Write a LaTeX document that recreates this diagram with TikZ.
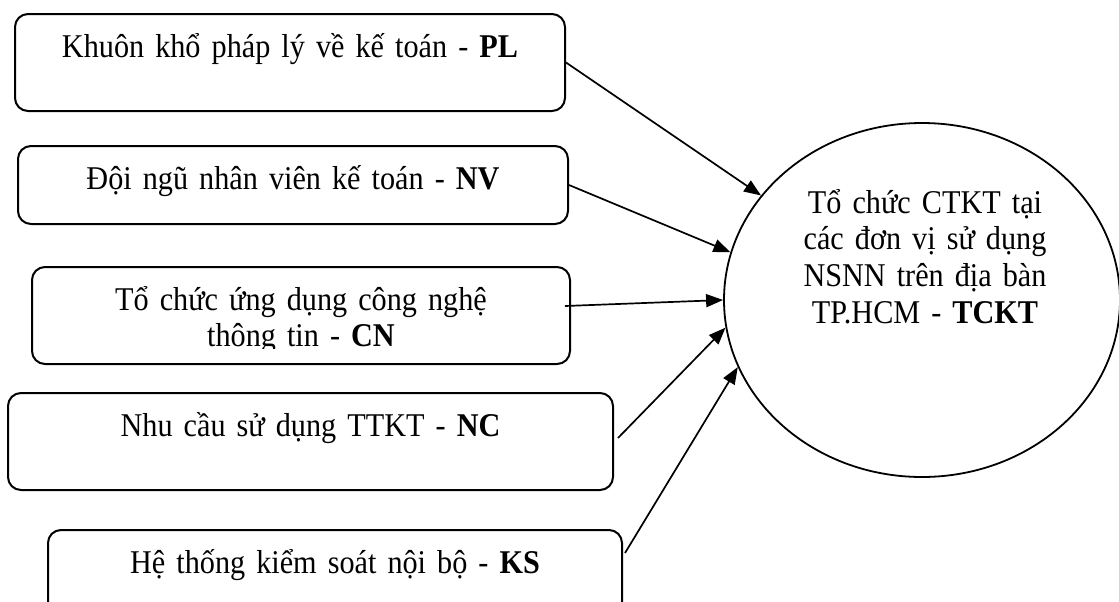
\documentclass[tikz,border=0pt]{standalone}
\usepackage{fontspec}
\setmainfont{Liberation Serif}[FakeStretch=0.91]
\usepackage{tikz}
\usetikzlibrary{arrows.meta}
\usetikzlibrary{shapes.geometric}
\tikzset{
    boxtext/.style = {align=center, inner sep=0pt, font=\fontsize{16.6}{18.35}\selectfont},
    factor_box/.style = {boxtext, draw=black, line width=1pt, rounded corners=6.5pt, anchor=north west, text height=21.5pt, text depth=27pt},
    result_node/.style = {ellipse, draw=black, line width=0.9pt, inner sep=0pt, minimum width=198pt, minimum height=177pt},
    result_text/.style = {boxtext, text width=150pt, anchor=base},
    link/.style = {->, line width=0.85pt}
}

\begin{document}
\begin{tikzpicture}
            [x=0.5pt, y=-0.5pt,
            >={Triangle[length=8.5pt, width=6.5pt]}]

            \useasboundingbox (0,0) rectangle (1119,601);

            % factors on the left
            \node [factor_box, text width=275pt] (pl) at (14,13) {Khuôn khổ pháp lý về kế toán - \textbf{PL}};
            \node [factor_box, text width=275pt, text depth=17.5pt] (nv) at (17,145) {Đội ngũ nhân viên kế toán - \textbf{NV}};
            \begin{scope}
                \clip (0,0) -- (1119,0) -- (1119,640) -- (0,640) -- cycle
                      (40,348) -- (40,359) -- (560,359) -- (560,348) -- cycle;
                \node [factor_box, text width=269pt] (cn) at (31,266) {Tổ chức ứng dụng công nghệ\\thông tin - \textbf{CN}};
            \end{scope}
            \node [factor_box, text width=302.5pt] (nc) at (7,392) {Nhu cầu sử dụng TTKT - \textbf{NC}};
            \node [factor_box, text width=287pt] (ks) at (47,529) {Hệ thống kiểm soát nội bộ - \textbf{KS}};

            % result
            \node [result_node] (tckt) at (922,300) {};
            \node [result_text] (tckt_text) at (925,213) {Tổ chức CTKT tại\\các đơn vị sử dụng\\NSNN trên địa bàn\\TP.HCM - \textbf{TCKT}};

            \draw [link] (pl.east) -- (tckt.147);
            \draw [link] (nv.east) -- (tckt.166);
            \draw [link] ([xshift=-3pt, yshift=4.75pt]cn.east) -- (tckt.180);
            \draw [link] ([xshift=2pt, yshift=1.75pt]nc.east) -- (tckt.188);
            \draw [link] ([xshift=1pt, yshift=12.75pt]ks.east) -- (tckt.200);
        \end{tikzpicture}
\end{document}
